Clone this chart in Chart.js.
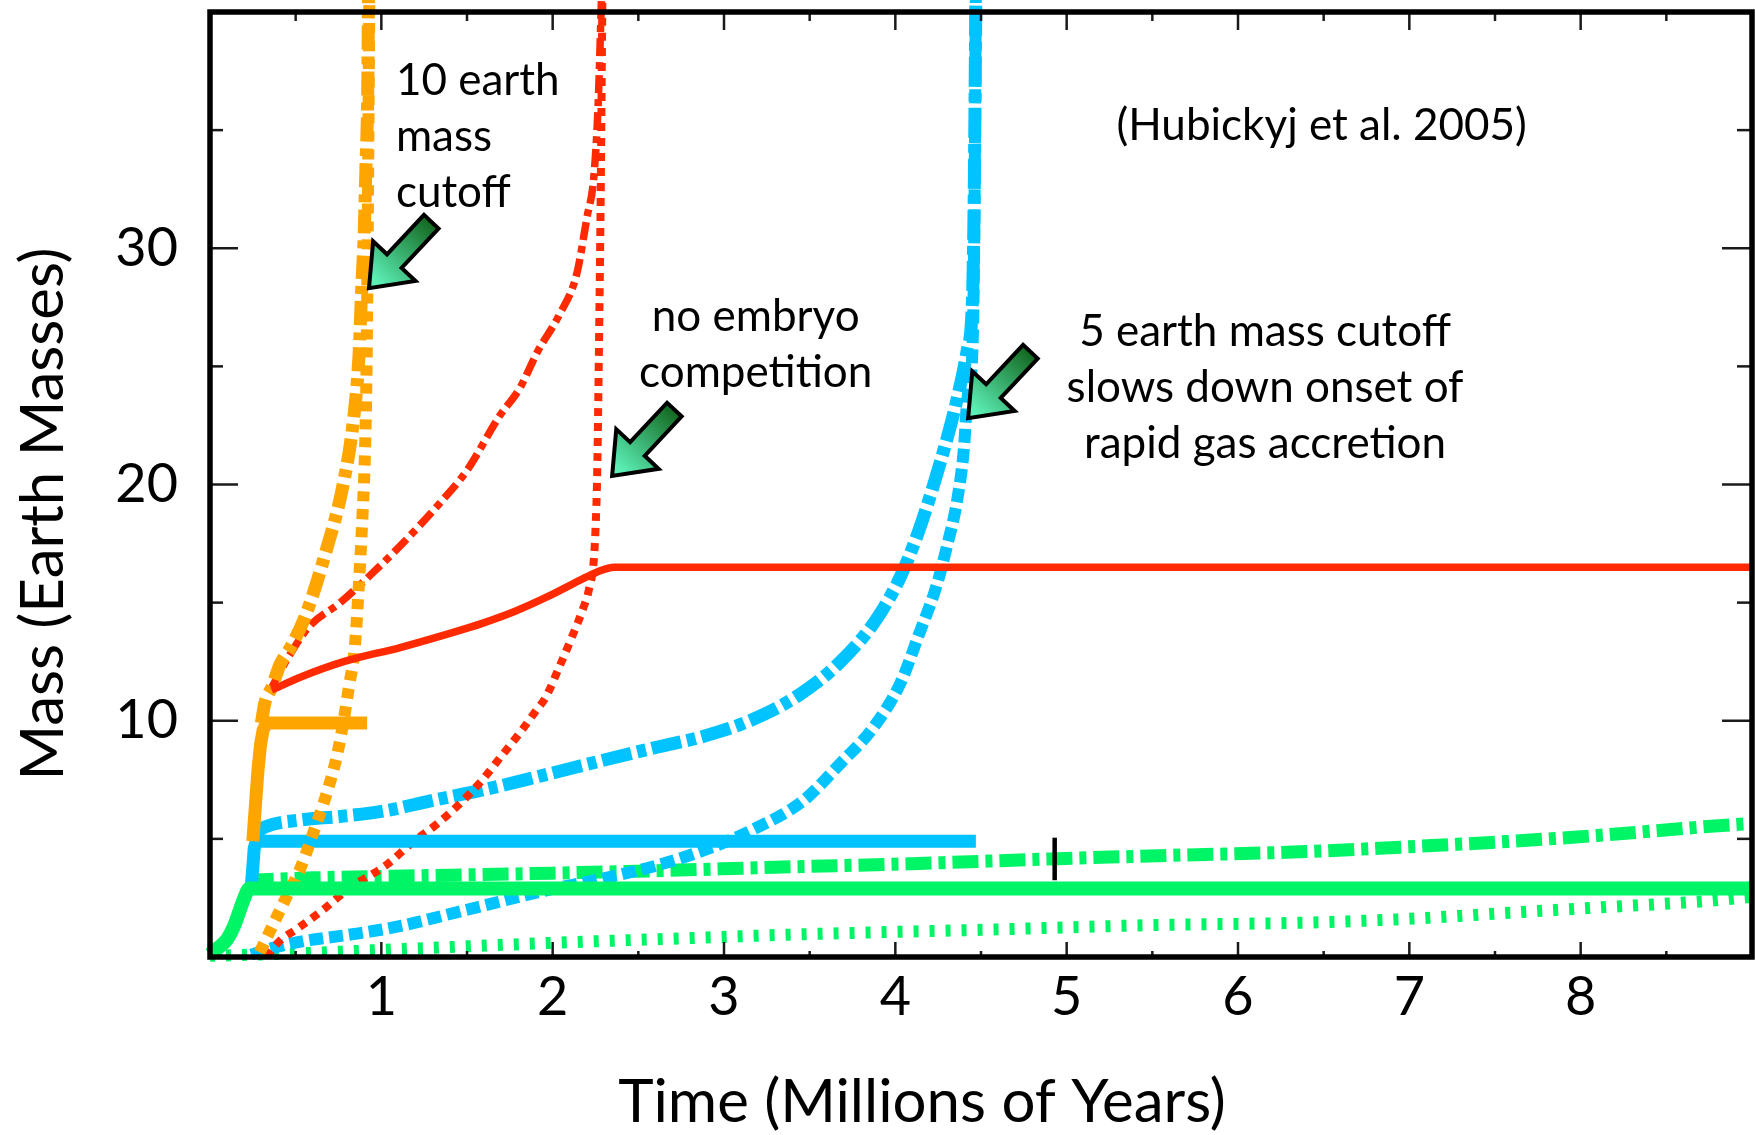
<!DOCTYPE html>
<html>
<head>
<meta charset="utf-8">
<script src="https://cdn.jsdelivr.net/npm/chart.js@4.4.1/dist/chart.umd.min.js"></script>
<style>
html,body{margin:0;padding:0;background:#fff;overflow:hidden}
#wrap{width:1755px;height:1135px}
</style>
</head>
<body>
<div id="wrap"><canvas id="c" width="1755" height="1135"></canvas></div>
<script>
// ---------- tick labels ----------
const xTickLabels = ['1','2','3','4','5','6','7','8'];
const yTickLabels = ['10','20','30'];

// ---------- series (time in Myr, mass in Earth masses) ----------
const greenSolidX = [0, 0.05, 0.1, 0.14, 0.17, 0.2, 0.23, 9.0];
const greenSolidY = [0.1, 0.4, 0.75, 1.3, 1.9, 2.5, 2.9, 2.9];

const greenDashDotX = [0.22, 0.6, 1.3, 2.0, 2.6, 3.3, 4.1, 4.9, 5.6, 6.36, 6.95, 7.53, 8.11, 8.7, 9.0];
const greenDashDotY = [3.25, 3.35, 3.45, 3.55, 3.65, 3.8, 3.95, 4.15, 4.3, 4.45, 4.65, 4.87, 5.15, 5.5, 5.66];

const greenDottedX = [0, 0.5, 1.0, 1.5, 2.0, 2.6, 3.4, 4.5, 5.5, 6.36, 6.95, 7.53, 8.11, 8.7, 9.0];
const greenDottedY = [0.05, 0.15, 0.3, 0.45, 0.6, 0.75, 0.95, 1.15, 1.35, 1.45, 1.6, 1.85, 2.1, 2.35, 2.55];

const cyanSolidX = [0.24, 0.25, 0.258, 0.27, 4.47];
const cyanSolidY = [2.9, 3.8, 4.6, 4.9, 4.9];

const cyanDashDotX = [0.26, 0.32, 0.53, 0.76, 1.03, 1.28, 1.61, 1.95, 2.28, 2.62, 2.86, 3.15, 3.44, 3.68, 3.89, 4.03, 4.13, 4.22, 4.30, 4.36, 4.42, 4.45, 4.46, 4.47];
const cyanDashDotY = [5.2, 5.5, 5.8, 5.95, 6.2, 6.6, 7.1, 7.7, 8.3, 8.9, 9.3, 10.0, 11.1, 12.5, 14.3, 16.1, 17.9, 19.9, 21.9, 23.6, 25.7, 27.8, 32, 40.6];

const cyanDottedX = [0.24, 0.35, 0.53, 0.82, 1.07, 1.5, 1.95, 2.28, 2.62, 2.95, 3.17, 3.46, 3.68, 3.87, 4.03, 4.14, 4.24, 4.30, 4.36, 4.40, 4.42, 4.45, 4.46, 4.47];
const cyanDottedY = [0.1, 0.35, 0.65, 0.95, 1.25, 2.0, 2.8, 3.3, 3.9, 4.7, 5.4, 6.6, 8.2, 9.7, 11.6, 13.7, 15.7, 17.35, 19.3, 21.5, 23.6, 25.7, 30, 40.6];

const orangeSolidX = [0.25, 0.265, 0.28, 0.295, 0.31, 0.33, 0.917];
const orangeSolidY = [4.9, 6.4, 7.9, 9.0, 9.6, 9.9, 9.9];

const orangeDashDotX = [0.30, 0.32, 0.36, 0.41, 0.47, 0.56, 0.67, 0.78, 0.84, 0.87, 0.885, 0.9, 0.91, 0.92, 0.925];
const orangeDashDotY = [9.9, 10.75, 11.4, 12.4, 13.1, 14.5, 17.0, 20.1, 22.9, 25.5, 28.2, 30.6, 33.4, 36.3, 40.6];

const orangeDottedX = [0.29, 0.35, 0.43, 0.53, 0.60, 0.68, 0.74, 0.78, 0.81, 0.845, 0.87, 0.89, 0.905, 0.915, 0.93];
const orangeDottedY = [0.2, 1.1, 2.3, 3.8, 5.2, 6.9, 8.5, 10.0, 11.4, 13.1, 15.9, 18.7, 21.5, 25.7, 40.6];

const redSolidX = [0.36, 0.53, 0.78, 1.11, 1.40, 1.58, 1.77, 1.97, 2.16, 2.26, 2.36, 9.0];
const redSolidY = [11.3, 11.85, 12.5, 13.1, 13.7, 14.1, 14.6, 15.25, 15.95, 16.3, 16.5, 16.5];

const redDashDotX = [0.36, 0.45, 0.58, 0.76, 0.97, 1.11, 1.34, 1.50, 1.69, 1.81, 1.91, 2.04, 2.14, 2.20, 2.24, 2.265, 2.285];
const redDashDotY = [11.4, 12.6, 14.0, 15.0, 16.4, 17.4, 19.2, 20.6, 22.9, 24.1, 25.6, 27.2, 28.9, 31.3, 33.0, 36.0, 40.6];

const redDottedX = [0.33, 0.41, 0.51, 0.66, 0.81, 1.03, 1.19, 1.32, 1.46, 1.59, 1.70, 1.81, 1.90, 1.96, 2.04, 2.11, 2.18, 2.21, 2.24, 2.25, 2.26, 2.27, 2.28, 2.29];
const redDottedY = [0, 0.7, 1.2, 2.0, 2.9, 3.9, 4.9, 5.6, 6.5, 7.5, 8.5, 9.5, 10.4, 11.0, 12.3, 13.5, 14.8, 15.5, 16.8, 18.1, 20.5, 25.7, 32, 40.6];

const markerX = [4.93, 4.93];
const markerY = [3.25, 5.05];

// ---------- annotations (data coordinates) ----------
const noteTexts = [
  ['10 earth', 'mass', 'cutoff'],
  ['no embryo', 'competition'],
  ['5 earth mass cutoff', 'slows down onset of', 'rapid gas accretion'],
  ['(Hubickyj et al. 2005)']
];
const noteX = [1.085, 3.185, 6.158, 6.488];
const noteY = [36.48, 26.49, 25.86, 34.57];
const noteAlign = ['left', 'center', 'center', 'center'];
const arrowTipX = [0.928, 2.347, 4.425];
const arrowTipY = [28.31, 20.36, 22.81];

const xTitle = 'Time (Millions of Years)';
const yTitle = 'Mass (Earth Masses)';

// ---------- styles ----------
const ORANGE = '#FFA500', RED = '#FF2A00', CYAN = '#00C3FF', GREEN = '#00F566';
const FONT = 'Lato, "Open Sans", sans-serif';

const mk = (xs, ys) => xs.map((x, i) => ({x: x, y: ys[i]}));
function ds(label, xs, ys, color, width, dash, smooth) {
  return {
    label: label, data: mk(xs, ys), borderColor: color, backgroundColor: color,
    borderWidth: width, borderDash: dash, pointRadius: 0, pointHoverRadius: 0,
    fill: false, borderCapStyle: 'butt', borderJoinStyle: 'round',
    cubicInterpolationMode: smooth ? 'monotone' : 'default', tension: 0,
    clip: {left: 8, top: 14, right: 3, bottom: 8}
  };
}

// bottom -> top drawing order
const layers = [
  ds('green dotted', greenDottedX, greenDottedY, GREEN, 12, [5, 11], true),
  ds('green dash-dot', greenDashDotX, greenDashDotY, GREEN, 13, [26, 7, 7, 7], true),
  ds('cyan dash-dot', cyanDashDotX, cyanDashDotY, CYAN, 13, [30, 6, 9, 6], true),
  ds('cyan dotted', cyanDottedX, cyanDottedY, CYAN, 12, [14, 6], true),
  ds('red dotted', redDottedX, redDottedY, RED, 8, [8, 7], true),
  ds('red dash-dot', redDashDotX, redDashDotY, RED, 7.5, [18, 6, 7, 6], true),
  ds('cyan solid', cyanSolidX, cyanSolidY, CYAN, 13, [], false),
  ds('orange dotted', orangeDottedX, orangeDottedY, ORANGE, 12, [10, 8], true),
  ds('orange dash-dot', orangeDashDotX, orangeDashDotY, ORANGE, 13, [24, 7, 8, 7], true),
  ds('red solid', redSolidX, redSolidY, RED, 7.5, [], true),
  ds('orange solid', orangeSolidX, orangeSolidY, ORANGE, 13, [], false),
  ds('green solid', greenSolidX, greenSolidY, GREEN, 14, [], true),
  ds('marker', markerX, markerY, '#000', 4.5, [], false)
];
const N = layers.length;
layers.forEach((d, i) => { d.order = N - i; });

function drawArrow(ctx, tx, ty) {
  const ux = -0.684, uy = 0.730, vx = 0.730, vy = 0.684;
  const pts = [[0,0],[-37,-29],[-37,-10],[-91,-10],[-91,10],[-37,10],[-37,29]];
  ctx.beginPath();
  pts.forEach(([u, v], i) => {
    const px = tx + u * ux + v * vx, py = ty + u * uy + v * vy;
    if (i) ctx.lineTo(px, py); else ctx.moveTo(px, py);
  });
  ctx.closePath();
  const g = ctx.createLinearGradient(tx - 91 * ux, ty - 91 * uy, tx - 10 * ux, ty - 10 * uy);
  g.addColorStop(0, '#12671f');
  g.addColorStop(1, '#5cefb6');
  ctx.fillStyle = g;
  ctx.fill();
  ctx.lineWidth = 4;
  ctx.lineJoin = 'miter';
  ctx.strokeStyle = '#000';
  ctx.stroke();
}

const decor = {
  id: 'decor',
  afterDatasetsDraw(chart) {
    const ctx = chart.ctx, a = chart.chartArea, xs = chart.scales.x, ys = chart.scales.y;
    ctx.save();
    ctx.strokeStyle = '#1a1a1a';
    ctx.lineWidth = 2.5;
    ctx.lineCap = 'butt';
    const seg = (x1, y1, x2, y2) => { ctx.beginPath(); ctx.moveTo(x1, y1); ctx.lineTo(x2, y2); ctx.stroke(); };
    for (let v = xs.min + 0.5; v < xs.max; v += 0.5) {
      const px = xs.getPixelForValue(v);
      const major = Math.abs(v - Math.round(v)) < 1e-6;
      seg(px, a.bottom, px, a.bottom - (major ? 15 : 6));
      seg(px, a.top, px, a.top + (major ? 18 : 9));
    }
    for (let v = ys.min + 5; v < ys.max; v += 5) {
      const py = ys.getPixelForValue(v);
      const major = v % 10 === 0;
      seg(a.left, py, a.left + (major ? 28 : 13), py);
      seg(a.right, py, a.right - (major ? 30 : 15), py);
    }
    ctx.strokeStyle = '#000';
    ctx.lineWidth = 5.5;
    ctx.lineJoin = 'miter';
    ctx.strokeRect(a.left, a.top, a.right - a.left, a.bottom - a.top);
    ctx.restore();
  },
  afterDraw(chart) {
    const ctx = chart.ctx, xs = chart.scales.x, ys = chart.scales.y;
    ctx.save();
    for (let i = 0; i < arrowTipX.length; i++) {
      drawArrow(ctx, xs.getPixelForValue(arrowTipX[i]), ys.getPixelForValue(arrowTipY[i]));
    }
    ctx.fillStyle = '#000';
    ctx.font = '44px ' + FONT;
    ctx.textBaseline = 'alphabetic';
    for (let i = 0; i < noteTexts.length; i++) {
      ctx.textAlign = noteAlign[i];
      const px = xs.getPixelForValue(noteX[i]);
      const py = ys.getPixelForValue(noteY[i]);
      noteTexts[i].forEach((t, k) => ctx.fillText(t, px, py + k * 56));
    }
    ctx.font = '60px ' + FONT;
    ctx.textAlign = 'center';
    ctx.fillText(xTitle, 922, 1122);
    ctx.translate(63, 514);
    ctx.rotate(-Math.PI / 2);
    ctx.fillText(yTitle, 0, 0);
    ctx.restore();
  }
};

function build() {
  new Chart(document.getElementById('c'), {
    type: 'line',
    data: {datasets: layers},
    options: {
      responsive: false,
      animation: false,
      devicePixelRatio: 1,
      events: [],
      layout: {padding: {left: 0, right: 3, top: 12, bottom: 0}},
      plugins: {legend: {display: false}, tooltip: {enabled: false}, title: {display: false}},
      scales: {
        x: {
          type: 'linear', min: 0, max: 9,
          grid: {display: false, drawTicks: false},
          border: {display: false},
          ticks: {
            stepSize: 1, padding: 8, color: '#000', maxRotation: 0, autoSkip: false,
            font: {family: FONT, size: 54},
            callback: (v) => xTickLabels.includes(String(v)) ? String(v) : null
          },
          afterFit: (s) => { s.height = 178; s.paddingLeft = 0; s.paddingRight = 0; }
        },
        y: {
          type: 'linear', min: 0, max: 40,
          grid: {display: false, drawTicks: false},
          border: {display: false},
          ticks: {
            stepSize: 5, padding: 32, color: '#000', autoSkip: false,
            font: {family: FONT, size: 54},
            callback: (v) => yTickLabels.includes(String(v)) ? String(v) : null
          },
          afterFit: (s) => { s.width = 210; s.paddingTop = 0; s.paddingBottom = 0; }
        }
      }
    },
    plugins: [decor]
  });
}

if (document.fonts && document.fonts.load) {
  Promise.all([document.fonts.load('54px Lato'), document.fonts.load('44px Lato')]).then(build, build);
} else {
  build();
}
</script>
</body>
</html>
